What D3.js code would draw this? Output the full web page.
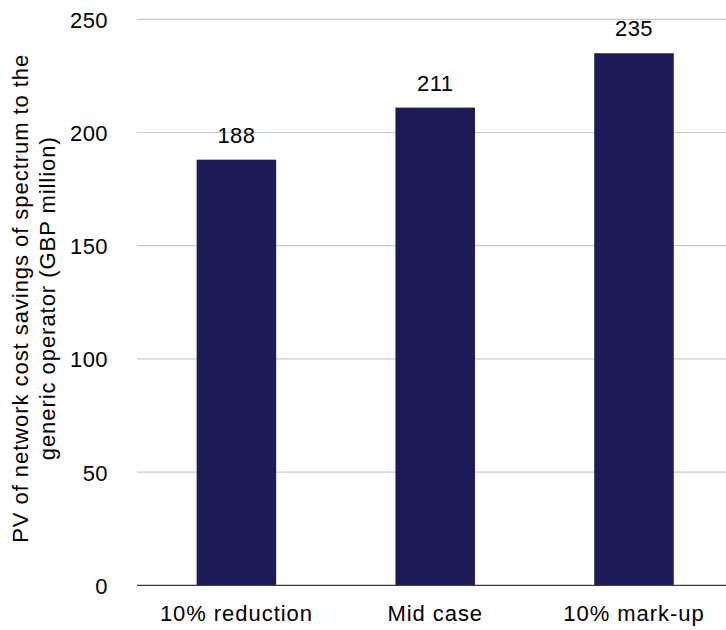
<!DOCTYPE html>
<html>
<head>
<meta charset="utf-8">
<script src="https://cdn.jsdelivr.net/npm/d3@7"></script>
<style>
  html, body { margin: 0; padding: 0; background: #ffffff; }
  svg { display: block; }
  svg text { font-family: "Liberation Sans", Arial, sans-serif; }
</style>
</head>
<body>
<svg id="chart" width="726" height="630"></svg>
<script>
// Scenario names and present values (GBP million)
const categories = ["10% reduction", "Mid case", "10% mark-up"];
const values = [188, 211, 235];
const yTicks = [0, 50, 100, 150, 200, 250];
const yTitleLines = [
  "PV of network cost savings of spectrum to the",
  "generic operator (GBP million)"
];

const W = 726, H = 630;
const plot = { left: 137, right: 733.4, top: 19.3, bottom: 585.3 };
const fontSize = 22;
const wordSpacing = "0.95px";
const digitSpacing = "0.4px";

const svg = d3.select("#chart");

const x = d3.scaleBand()
  .domain(categories)
  .range([plot.left, plot.right])
  .paddingInner(0.6)
  .paddingOuter(0.3);

const y = d3.scaleLinear()
  .domain([0, 250])
  .range([plot.bottom, plot.top]);

// horizontal gridlines
svg.append("g")
  .selectAll("line")
  .data(yTicks.filter(d => d > 0))
  .join("line")
  .attr("x1", plot.left)
  .attr("x2", W)
  .attr("y1", d => y(d))
  .attr("y2", d => y(d))
  .attr("stroke", "#c8c8c8")
  .attr("stroke-width", 1.2);

// bars
svg.append("g")
  .selectAll("rect")
  .data(values)
  .join("rect")
  .attr("x", (d, i) => x(categories[i]))
  .attr("width", x.bandwidth())
  .attr("y", d => y(d))
  .attr("height", d => y(0) - y(d))
  .attr("fill", "#1c1a57");

// value labels above bars
svg.append("g")
  .selectAll("text")
  .data(values)
  .join("text")
  .attr("x", (d, i) => x(categories[i]) + x.bandwidth() / 2)
  .attr("y", d => y(d) - 17)
  .attr("text-anchor", "middle")
  .attr("font-size", fontSize)
  .attr("letter-spacing", digitSpacing)
  .attr("fill", "#000")
  .text(d => d);

// y axis tick labels
const yAxis = d3.axisLeft(y).tickValues(yTicks).tickSize(0).tickPadding(0);
const gy = svg.append("g")
  .attr("transform", `translate(108,0)`)
  .call(yAxis);
gy.attr("font-family", null);
gy.select(".domain").remove();
gy.selectAll("text")
  .attr("font-size", fontSize)
  .attr("letter-spacing", digitSpacing)
  .attr("fill", "#000")
  .attr("dy", "0.36em");

// x axis baseline and category labels
const xAxis = d3.axisBottom(x).tickSize(0).tickPadding(0);
const gx = svg.append("g")
  .attr("transform", `translate(0,${plot.bottom})`)
  .call(xAxis);
gx.attr("font-family", null);
gx.select(".domain")
  .attr("d", `M${plot.left},0H${W}`)
  .attr("stroke", "#3a3a3a")
  .attr("stroke-width", 1.3);
gx.selectAll("text")
  .attr("font-size", fontSize)
  .attr("letter-spacing", wordSpacing)
  .attr("fill", "#000")
  .attr("dy", 0)
  .attr("y", 36);

// rotated y axis title
const cy = (plot.top + plot.bottom) / 2 - 4;
svg.append("g")
  .selectAll("text")
  .data(yTitleLines)
  .join("text")
  .attr("transform", (d, i) => `translate(${27.5 + i * 27.5},${cy}) rotate(-90)`)
  .attr("text-anchor", "middle")
  .attr("font-size", fontSize)
  .attr("letter-spacing", wordSpacing)
  .attr("fill", "#000")
  .text(d => d);
</script>
</body>
</html>
